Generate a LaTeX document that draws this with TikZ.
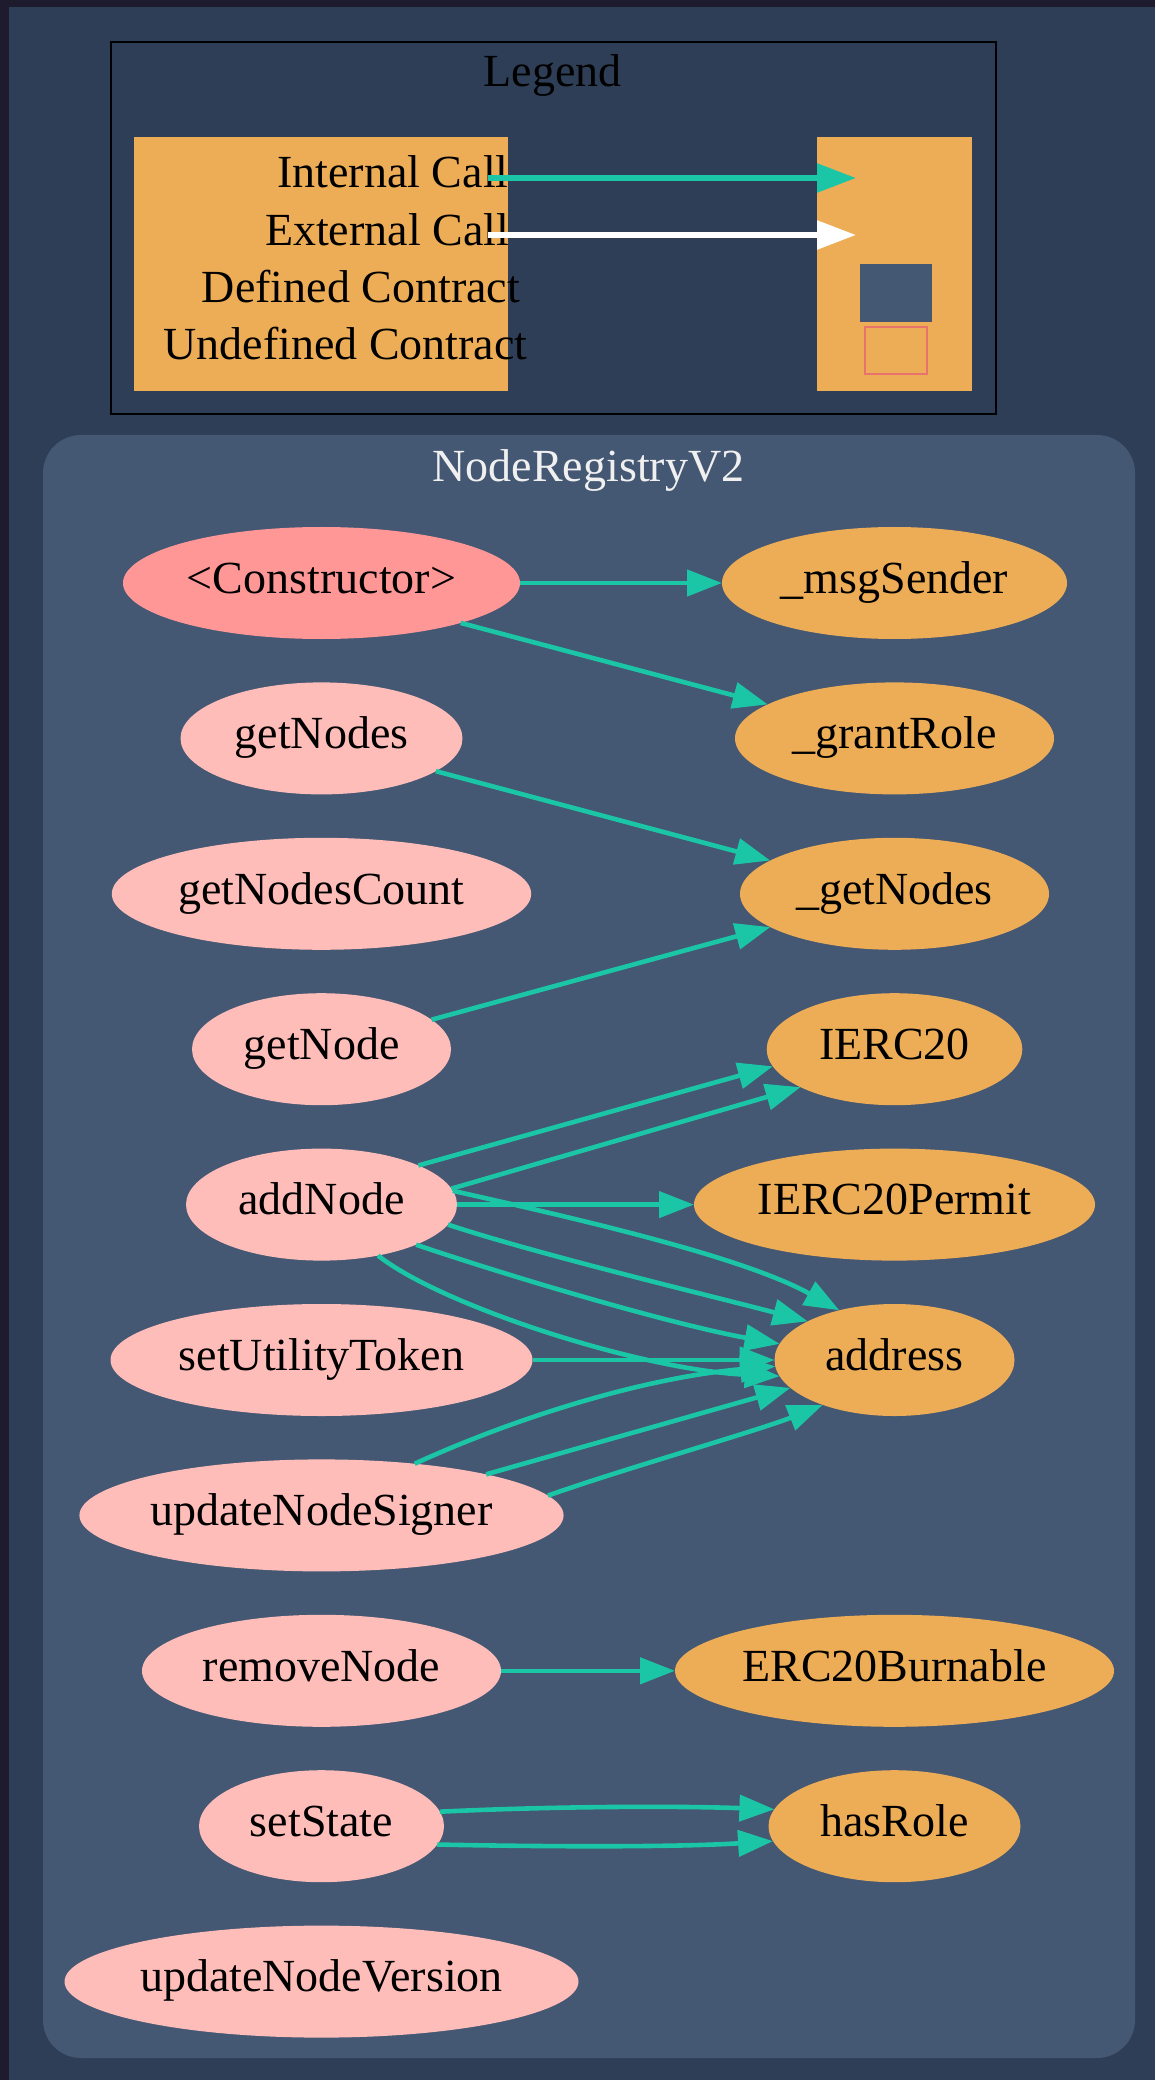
\documentclass[tikz,border=0pt]{standalone}
\usepackage{fontspec}
\setmainfont{Liberation Serif}
\usetikzlibrary{arrows.meta,shapes.geometric}

\definecolor{chrome}{HTML}{1E1B2E}
\definecolor{canvas}{HTML}{2E3E56}
\definecolor{clusterbg}{HTML}{445773}
\definecolor{extorange}{HTML}{EDAD56}
\definecolor{fnpink}{HTML}{FFBDB9}
\definecolor{ctorpink}{HTML}{FF9797}
\definecolor{callteal}{HTML}{1BC6A6}
\definecolor{undefred}{HTML}{E8726D}
\definecolor{titlewhite}{HTML}{F0F0F0}

\newcommand\labelfont{\fontsize{23}{27}\selectfont}

\tikzset{
  fn/.style={ellipse, fill=fnpink, inner sep=0pt, outer sep=0pt,
    minimum height=56pt, font=\labelfont, text=black,
    text height=15.2pt, text depth=5pt},
  ctorfn/.style={fn, fill=ctorpink},
  extfn/.style={fn, fill=extorange},
  legendtext/.style={font=\labelfont, text=black, anchor=base, inner sep=0pt},
  call/.style={draw=callteal, line width=2.3pt,
    -{Triangle[length=17.5pt,width=13pt]}},
  legendcall/.style={line width=2.8pt,
    -{Triangle[length=19.5pt,width=14pt]}},
}

\begin{document}
\begin{tikzpicture}[x=0.5pt,y=-0.5pt]
\useasboundingbox (0,0) rectangle (1155,2080);

% page background
\fill[chrome] (0,0) rectangle (1155,2080);
\fill[canvas] (9,7) rectangle (1155,2080);

% ---------------- legend ----------------
\draw[black, line width=1pt] (110.5,42) rectangle (996,414);
\node[legendtext] (legendtitle) at (552.5,87) {Legend};
\fill[extorange] (134,137) rectangle (508,391);
\fill[extorange] (817,137) rectangle (972,391);
\node[legendtext] (kint) at (393,188) {Internal Call};
\node[legendtext] (kext) at (387,246) {External Call};
\node[legendtext] (kdef) at (361,303) {Defined Contract};
\node[legendtext] (kundef) at (345.5,360) {Undefined Contract};
\fill[clusterbg] (860,264) rectangle (932,322);
\draw[undefred, line width=1pt] (865,327) rectangle (927,374);
\coordinate (intfrom) at (488,178);
\coordinate (intto) at (856,178);
\coordinate (extfrom) at (488,235);
\coordinate (extto) at (856,235);
\draw[legendcall, draw=callteal] (intfrom) -- (intto);
\draw[legendcall, draw=white] (extfrom) -- (extto);

% ---------------- contract cluster ----------------
\fill[clusterbg, rounded corners=19pt] (43,435) rectangle (1135,2058);
\node[font=\labelfont, text=titlewhite, anchor=base, inner sep=0pt]
  (clustertitle) at (588.5,481.7) {NodeRegistryV2};

% functions of the contract
\node[ctorfn, minimum width=198.5pt] (ctor) at (321.5,583)    {<Constructor>};
\node[fn, minimum width=141pt]   (gns)  at (321.5,738.4)  {getNodes};
\node[fn, minimum width=209.7pt] (gnc)  at (321.5,893.8)  {getNodesCount};
\node[fn, minimum width=129.5pt] (gn)   at (321.5,1049.2) {getNode};
\node[fn, minimum width=135.5pt] (add)  at (321.5,1204.6) {addNode};
\node[fn, minimum width=211pt]   (sut)  at (321.5,1360)   {setUtilityToken};
\node[fn, minimum width=242pt]   (uns)  at (321.5,1515.4) {updateNodeSigner};
\node[fn, minimum width=179.5pt] (rm)   at (321.5,1670.8) {removeNode};
\node[fn, minimum width=122.5pt] (ss)   at (321.5,1826.2) {setState};
\node[fn, minimum width=257pt]   (unv)  at (321.5,1981.6) {updateNodeVersion};

% called functions and types
\node[extfn, minimum width=172.5pt] (msg)   at (894.5,583)    {\_msgSender};
\node[extfn, minimum width=159.5pt] (grant) at (894.5,738.4)  {\_grantRole};
\node[extfn, minimum width=154.5pt] (gnd)   at (894.5,893.8)  {\_getNodes};
\node[extfn, minimum width=127.8pt] (ierc)  at (894.5,1049.2) {IERC20};
\node[extfn, minimum width=200.5pt] (perm)  at (894.5,1204.6) {IERC20Permit};
\node[extfn, minimum width=120pt]   (addr)  at (894.5,1360)   {address};
\node[extfn, minimum width=219.5pt] (burn)  at (894.5,1670.8) {ERC20Burnable};
\node[extfn, minimum width=126pt]   (hr)    at (894.5,1826.2) {hasRole};

% internal calls
\draw[call] (ctor) -- (msg);
\draw[call] (ctor.344.9) -- (grant.165.4);
\draw[call] (gns.344.85) -- (gnd.165.1);
\draw[call] (gn.15.55) -- (gnd.195.1);
\draw[call] (add.22.4) -- (ierc.188.1);
\draw[call] (add.7.4) -- (ierc.202.8);
\draw[call] (add) -- (perm);
\draw[call] (add.6.4) .. controls (560,1215) and (740,1255) .. (addr.138);
\draw[call] (add.351.8) .. controls (540,1255) and (720,1298) .. (addr.156.8);
\draw[call] (add.337) .. controls (530,1283) and (680,1326) .. (addr.172.6);
\draw[call] (add.318.4) .. controls (440,1305) and (640,1370) .. (addr.188.2);
\draw[call] (sut) -- (addr);
\draw[call] (uns.29.7) .. controls (510,1420) and (640,1378) .. (addr.183.2);
\draw[call] (uns.14.6) -- (addr.195.2);
\draw[call] (uns.5.5) .. controls (620,1470) and (760,1430) .. (addr.212.8);
\draw[call] (rm) -- (burn);
\draw[call] (ss.7.4) .. controls (560,1806) and (680,1806) .. (hr.172.4);
\draw[call] (ss.351.6) .. controls (560,1847) and (680,1847) .. (hr.187.6);
\end{tikzpicture}
\end{document}
